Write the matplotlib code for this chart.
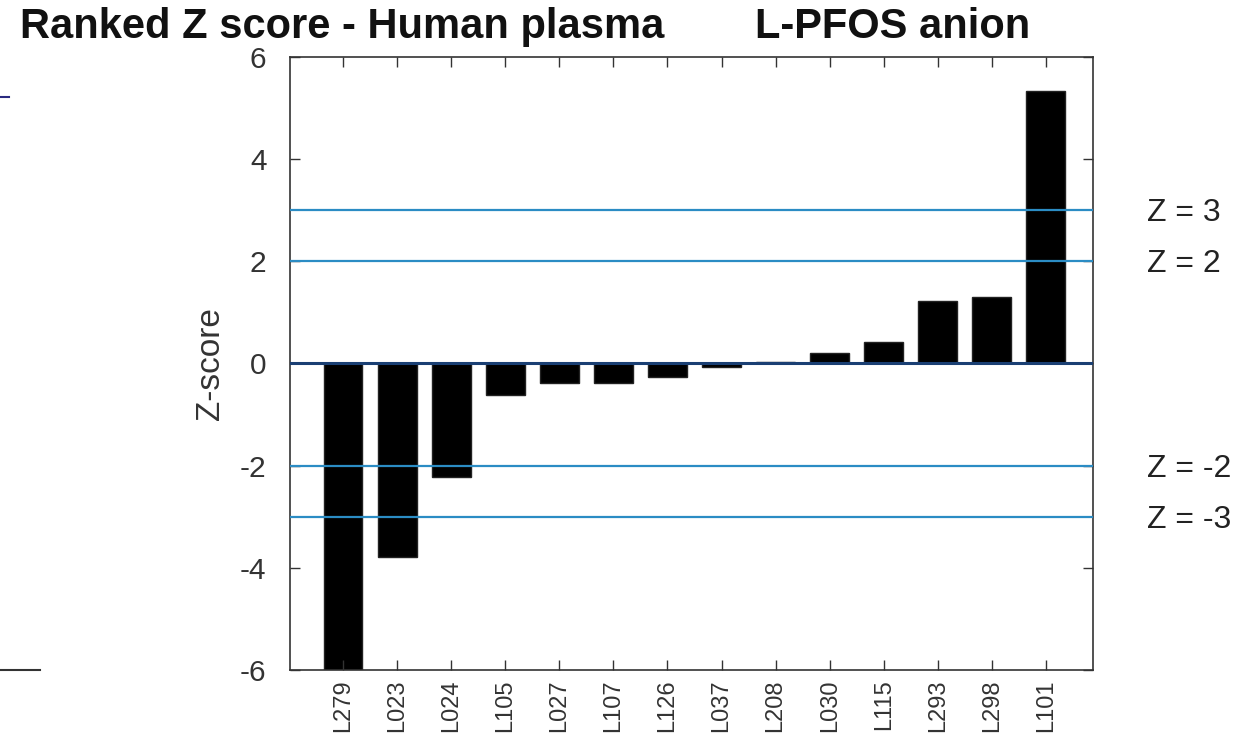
import numpy as np
import matplotlib
matplotlib.use('Agg')
import matplotlib.pyplot as plt
from matplotlib.lines import Line2D

plt.rcParams['font.family'] = ['Liberation Sans', 'DejaVu Sans']

labs = ['L279', 'L023', 'L024', 'L105', 'L027', 'L107', 'L126',
        'L037', 'L208', 'L030', 'L115', 'L293', 'L298', 'L101']
zvals = [-6.4, -3.79, -2.22, -0.62, -0.38, -0.38, -0.26,
         -0.07, 0.02, 0.2, 0.42, 1.22, 1.3, 5.33]
limits = [3, 2, -2, -3]
limit_txt = ['Z = 3', 'Z = 2', 'Z = -2', 'Z = -3']
yticks = [-6, -4, -2, 0, 2, 4, 6]

fig = plt.figure(figsize=(12.56, 7.4), dpi=100)
ax = fig.add_axes([0.2309, 0.0946, 0.6393, 0.8284])

x = np.arange(1, len(labs) + 1)
ax.bar(x, zvals, width=0.72, color='black', edgecolor='#222222', linewidth=1)

for v in limits:
    ax.axhline(v, color='#2b8cc4', lw=1.6, zorder=3)
ax.axhline(0, color='#1a3f73', lw=2.2, zorder=3)

ax.set_xlim(0.02, 14.87)
ax.set_ylim(-6, 6)
ax.set_yticks(yticks)
ax.set_yticklabels([str(t) for t in yticks], fontsize=21.5, color='#333333')
ax.set_xticks(x)
ax.set_xticklabels(labs, rotation=90, fontsize=17, color='#333333')
ax.tick_params(direction='in', length=7, width=1, top=True, right=True,
               colors='#333333', pad=7)
ax.tick_params(axis='y', pad=17)
for s in ax.spines.values():
    s.set_linewidth(1.2)
    s.set_color('#333333')
ax.set_ylabel('Z-score', fontsize=24, color='#333333', labelpad=10)

for v, t in zip(limits, limit_txt):
    ax.text(1.067, (v + 6) / 12 - 0.005, t, transform=ax.transAxes, fontsize=23,
            color='#222222', va='center', ha='left')

fig.text(0.016, 0.948, 'Ranked Z score - Human plasma', fontsize=30,
         fontweight='bold', color='#111111', va='baseline')
fig.text(0.601, 0.948, 'L-PFOS anion', fontsize=30,
         fontweight='bold', color='#111111', va='baseline')

# leftover slide marks at the left edge
fig.add_artist(Line2D([0, 0.007], [0.869, 0.869], color='#2a2a80', lw=1.5))
fig.add_artist(Line2D([0, 0.032], [0.0946, 0.0946], color='#333333', lw=1.5))

fig.savefig('out.png', dpi=100)
